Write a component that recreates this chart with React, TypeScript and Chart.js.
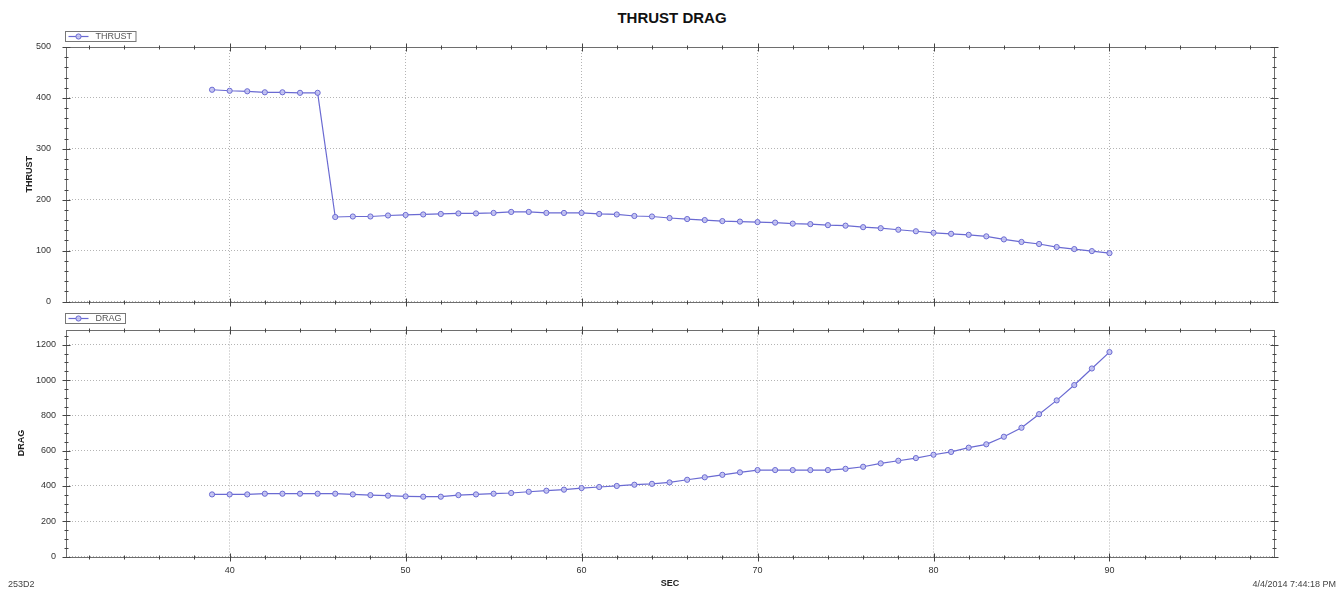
import React, { useEffect, useRef } from "react";
import { Chart, registerables } from "chart.js";

Chart.register(...registerables);

const CHART_TITLE = "THRUST DRAG";
const X_TITLE = "SEC";
const FOOT_LEFT = "253D2";
const FOOT_RIGHT = "4/4/2014 7:44:18 PM";

const SEC = [
  39, 40, 41, 42, 43, 44, 45, 46, 47, 48, 49, 50, 51, 52, 53, 54, 55, 56, 57, 58,
  59, 60, 61, 62, 63, 64, 65, 66, 67, 68, 69, 70, 71, 72, 73, 74, 75, 76, 77, 78,
  79, 80, 81, 82, 83, 84, 85, 86, 87, 88, 89, 90,
];

const THRUST = [
  416, 414, 413, 411, 411, 410, 410, 166, 167, 167, 169, 170, 171, 172, 173, 173,
  174, 176, 176, 174, 174, 174, 172, 171, 168, 167, 164, 162, 160, 158, 157, 156,
  155, 153, 152, 150, 149, 146, 144, 141, 138, 135, 133, 131, 128, 122, 117, 113,
  107, 103, 99, 95,
];

const DRAG = [
  352, 352, 352, 356, 356, 356, 356, 356, 352, 348, 345, 341, 339, 339, 348, 352,
  356, 360, 367, 373, 379, 388, 394, 400, 407, 412, 420, 435, 449, 463, 477, 490,
  490, 490, 490, 490, 497, 509, 528, 543, 558, 577, 593, 617, 636, 679, 730, 807,
  885, 972, 1066, 1159,
];

const FONT = '"Liberation Sans", Arial, Helvetica, sans-serif';
const LINE_COLOR = "#6a6ad2";
const POINT_FILL = "rgba(195,195,242,0.9)";
const GRID_COLOR = "#b4b4b4";
const FRAME_COLOR = "#6e6e6e";

const framePlugin = {
  id: "frame",
  afterDraw(chart: any, _args: any, opts: any) {
    const { ctx, chartArea: a } = chart;
    const xs = chart.scales.x;
    const ys = chart.scales.y;
    const L = Math.round(a.left) + 0.5;
    const R = Math.round(a.right) + 0.5;
    const T = Math.round(a.top) + 0.5;
    const B = Math.round(a.bottom) + 0.5;
    ctx.save();
    ctx.strokeStyle = FRAME_COLOR;
    ctx.lineWidth = 1;
    ctx.strokeRect(L, T, R - L, B - T);
    ctx.strokeStyle = "#444";
    const xMajor = xs.ticks.map((t: any) => t.value);
    for (let v = Math.ceil(xs.min / opts.xMinor) * opts.xMinor; v <= xs.max; v += opts.xMinor) {
      const px = Math.round(xs.getPixelForValue(v)) + 0.5;
      const major = xMajor.some((m: number) => Math.abs(m - v) < 1e-6);
      const len = major ? 4 : 2;
      ctx.beginPath();
      ctx.moveTo(px, B - len);
      ctx.lineTo(px, B + len);
      ctx.moveTo(px, T - len);
      ctx.lineTo(px, T + len);
      ctx.stroke();
    }
    const yMajor = ys.ticks.map((t: any) => t.value);
    for (let v = Math.ceil(ys.min / opts.yMinor) * opts.yMinor; v <= ys.max; v += opts.yMinor) {
      const py = Math.round(ys.getPixelForValue(v)) + 0.5;
      const major = yMajor.some((m: number) => Math.abs(m - v) < 1e-6);
      const len = major ? 4 : 2;
      ctx.beginPath();
      ctx.moveTo(L - len, py);
      ctx.lineTo(L + len, py);
      ctx.moveTo(R - len, py);
      ctx.lineTo(R + len, py);
      ctx.stroke();
    }
    const ds = chart.data.datasets[0];
    ctx.font = `9px ${FONT}`;
    const tw = ctx.measureText(ds.label).width;
    const bx = L - 1;
    const by = opts.legendTop + 0.5;
    const bh = 10;
    const textX = bx + 30;
    const bw = textX - bx + tw + 4;
    ctx.fillStyle = "#fff";
    ctx.fillRect(bx, by, bw, bh);
    ctx.strokeStyle = "#777";
    ctx.strokeRect(bx, by, bw, bh);
    const my = by + bh / 2;
    ctx.strokeStyle = LINE_COLOR;
    ctx.lineWidth = 1.2;
    ctx.beginPath();
    ctx.moveTo(bx + 3, my);
    ctx.lineTo(bx + 23, my);
    ctx.stroke();
    ctx.beginPath();
    ctx.arc(bx + 13, my, 2.6, 0, Math.PI * 2);
    ctx.fillStyle = POINT_FILL;
    ctx.fill();
    ctx.lineWidth = 1;
    ctx.stroke();
    ctx.fillStyle = "#555";
    ctx.textBaseline = "middle";
    ctx.textAlign = "left";
    ctx.fillText(ds.label, textX, my + 0.5);
    ctx.restore();
  },
};

function makeConfig(
  label: string,
  values: number[],
  yMax: number,
  yStep: number,
  yMinor: number,
  pad: { top: number; bottom: number },
  xHeight: number,
  showX: boolean,
  yLabelPad: number,
  yTitlePad: number,
  legendTop: number
): any {
  return {
    type: "line",
    data: {
      datasets: [
        {
          label,
          data: SEC.map((s, i) => ({ x: s, y: values[i] })),
          borderColor: LINE_COLOR,
          borderWidth: 1.2,
          pointRadius: 2.6,
          pointBackgroundColor: POINT_FILL,
          pointBorderColor: LINE_COLOR,
          pointBorderWidth: 1,
          tension: 0,
          fill: false,
        },
      ],
    },
    options: {
      animation: false,
      responsive: false,
      events: [],
      layout: { padding: { left: 0, right: 70, top: pad.top, bottom: pad.bottom } },
      plugins: {
        legend: { display: false },
        tooltip: { enabled: false },
        title: { display: false },
        frame: { xMinor: 2, yMinor, legendTop },
      },
      scales: {
        x: {
          type: "linear",
          min: 30.7,
          max: 99.35,
          ticks: {
            display: showX,
            stepSize: 10,
            includeBounds: false,
            color: "#333",
            font: { size: 9, family: FONT },
            padding: 9,
            maxRotation: 0,
            callback: (v: number) => String(v),
          },
          grid: { color: GRID_COLOR, drawTicks: false, tickLength: 0, lineWidth: 1 },
          border: { display: false, dash: [1, 2] },
          title: {
            display: showX,
            text: X_TITLE,
            color: "#222",
            font: { size: 9, weight: "bold", family: FONT },
            padding: { top: 0, bottom: 4.6 },
          },
          afterFit: (s: any) => {
            s.height = xHeight;
          },
        },
        y: {
          type: "linear",
          min: 0,
          max: yMax,
          ticks: {
            stepSize: yStep,
            includeBounds: false,
            color: "#333",
            font: { size: 9, family: FONT },
            padding: yLabelPad,
            callback: (v: number) => String(v),
          },
          grid: { color: GRID_COLOR, drawTicks: false, tickLength: 0, lineWidth: 1 },
          border: { display: false, dash: [1, 2] },
          title: {
            display: true,
            text: label,
            color: "#222",
            font: { size: 9, weight: "bold", family: FONT },
            padding: { top: yTitlePad, bottom: 0 },
          },
          afterFit: (s: any) => {
            s.width = 66;
          },
        },
      },
    },
    plugins: [framePlugin],
  };
}

export default function App() {
  const topRef = useRef<HTMLCanvasElement>(null);
  const botRef = useRef<HTMLCanvasElement>(null);

  useEffect(() => {
    Chart.defaults.font.family = FONT;
    const c1 = new Chart(
      topRef.current!,
      makeConfig("THRUST", THRUST, 500, 100, 20, { top: 47, bottom: 292.5 }, 0, false, 15, 24.6, 31)
    );
    const c2 = new Chart(
      botRef.current!,
      makeConfig("DRAG", DRAG, 1287, 200, 50, { top: 329.5, bottom: 0 }, 37.5, true, 10, 16.6, 313)
    );
    return () => {
      c1.destroy();
      c2.destroy();
    };
  }, []);

  const canvasStyle: React.CSSProperties = {
    position: "absolute",
    left: 0,
    top: 0,
    width: 1344,
    height: 594,
  };

  return (
    <div
      style={{
        position: "fixed",
        left: 0,
        top: 0,
        width: 1344,
        height: 594,
        background: "#fff",
        fontFamily: FONT,
        overflow: "hidden",
      }}
    >
      <div
        style={{
          position: "absolute",
          left: 0,
          top: 10,
          width: 1344,
          textAlign: "center",
          fontWeight: "bold",
          fontSize: 15,
          color: "#111",
          lineHeight: "16px",
        }}
      >
        {CHART_TITLE}
      </div>
      <canvas ref={topRef} width={1344} height={594} style={canvasStyle} />
      <canvas ref={botRef} width={1344} height={594} style={canvasStyle} />
      <div style={{ position: "absolute", left: 8, top: 579, fontSize: 9, color: "#444", lineHeight: "11px" }}>
        {FOOT_LEFT}
      </div>
      <div style={{ position: "absolute", right: 8, top: 579, fontSize: 9, color: "#444", lineHeight: "11px" }}>
        {FOOT_RIGHT}
      </div>
    </div>
  );
}
